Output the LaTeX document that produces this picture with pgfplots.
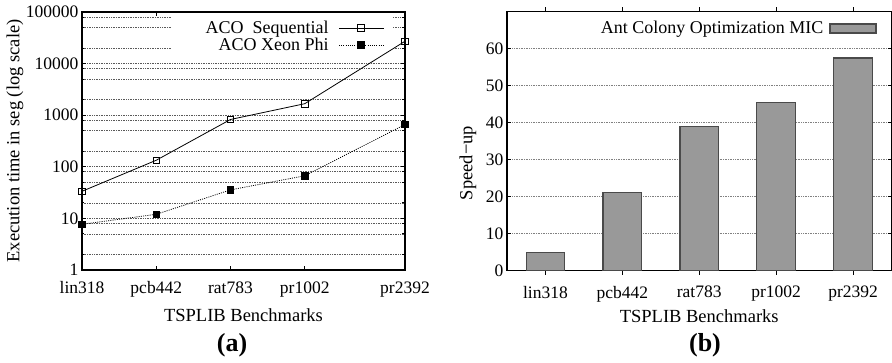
\documentclass[border=0pt]{standalone}
\usepackage{fontspec}
\setmainfont{Liberation Serif}
\usepackage{pgfplots}
\pgfplotsset{compat=1.18}
\definecolor{barfill}{HTML}{999999}
\definecolor{baredge}{HTML}{4A4A4A}
\newcommand{\tfont}{\fontsize{17.5}{18}\selectfont}
\newcommand{\gfont}{\fontsize{18}{18}\selectfont}
\newcommand{\lfont}{\fontsize{18.5}{20}\selectfont}
\begin{document}
\begin{tikzpicture}
\path[use as bounding box] (0pt,0pt) rectangle (892pt,363pt);
% ---------------- (a) ----------------
\begin{axis}[
  at={(82pt,93pt)}, anchor=south west, scale only axis,
  width=323pt, height=258pt,
  ymode=log, log basis y=10,
  ymin=1, ymax=100000, xmin=0, xmax=4.35,
  xtick={0,1,2,3,4.35}, xticklabels={lin318,pcb442,rat783,pr1002,pr2392},
  ytick={1,10,100,1000,10000,100000},
  yticklabels={1,10,100,1000,10000,100000},
  minor ytick={2,5,8,20,50,80,200,500,800,2000,5000,8000,20000,50000,80000},
  ymajorgrids, yminorgrids,
  major grid style={black!65, line width=0.6pt, dash pattern=on 0.8pt off 0.9pt},
  minor grid style={black!65, line width=0.6pt, dash pattern=on 0.8pt off 0.9pt},
  axis line style={line width=1.1pt},
  major tick length=4pt, minor tick length=2.5pt,
  every tick/.style={black, line width=0.9pt},
  tick label style={font=\tfont},
  xticklabel style={yshift=-8pt},
  xlabel={TSPLIB Benchmarks},
  ylabel={Execution time in seg (log scale)},
  every axis x label/.style={at={(rel axis cs:0.5,0)}, anchor=center, yshift=-45pt, font=\lfont},
  every axis y label/.style={at={(rel axis cs:0,0.5)}, anchor=center, rotate=90, yshift=67pt, font=\lfont},
  legend plot pos=right,
  legend cell align=right,
  legend style={at={(rel axis cs:0.965,1)}, anchor=north east, xshift=-5pt, yshift=-5pt,
    draw=none, fill=none, font=\gfont, row sep=-1pt, column sep=8pt, inner xsep=4pt, inner ysep=2pt},
  legend image code/.code={\draw[mark repeat=2,mark phase=2,#1] plot coordinates {(0pt,0pt) (22pt,0pt) (45pt,0pt)};},
]
\fill[white] (rel axis cs:0.279,0.835) rectangle (rel axis cs:0.963,0.997);
\addplot[black, line width=0.8pt, mark=square, mark size=3.3pt, mark options={solid, line width=0.8pt}]
  coordinates {(0,33.5) (1,134) (2,826) (3,1670) (4.35,27100)};
\addlegendentry{ACO\ \ Sequential}
\addplot[black, line width=0.8pt, dash pattern=on 1pt off 1.2pt, mark=square*, mark size=3.3pt, mark options={solid, fill=black}]
  coordinates {(0,7.7) (1,12) (2,35.7) (3,67) (4.35,660)};
\addlegendentry{ACO Xeon Phi}
\end{axis}
\node[font=\fontsize{26}{28}\selectfont\bfseries] at (232pt,18pt) {(a)};
% ---------------- (b) ----------------
\begin{axis}[
  at={(507pt,92.3pt)}, anchor=south west, scale only axis,
  width=384.5pt, height=259.4pt,
  ybar, bar width=38.7pt,
  xmin=-0.5, xmax=4.5, ymin=0, ymax=70,
  xtick={0,1,2,3,4}, xticklabels={lin318,pcb442,rat783,pr1002,pr2392},
  ytick={0,10,20,30,40,50,60}, yticklabels={0,10,20,30,40,50,60},
  ymajorgrids,
  major grid style={black!50, line width=0.6pt, dash pattern=on 0.8pt off 0.9pt},
  axis line style={line width=1.1pt},
  major tick length=4pt,
  every tick/.style={black, line width=0.9pt},
  tick label style={font=\tfont},
  xticklabel style={yshift=-8pt},
  xlabel={TSPLIB Benchmarks},
  ylabel={Speed−up},
  every axis x label/.style={at={(rel axis cs:0.5,0)}, anchor=center, yshift=-45pt, font=\lfont},
  every axis y label/.style={at={(rel axis cs:0,0.415)}, anchor=center, rotate=90, yshift=39pt, font=\lfont},
  legend plot pos=right,
  legend style={at={(rel axis cs:0.985,1)}, anchor=north east, xshift=-6pt, yshift=-5pt,
    draw=none, fill=none, font=\gfont, column sep=4pt, inner xsep=3pt, inner ysep=3pt},
  legend image code/.code={\draw[#1] (0pt,-4.5pt) rectangle (46pt,4.5pt);},
]
\addplot[fill=barfill, draw=baredge, line width=1.2pt] coordinates {(0,5) (1,21.1) (2,39) (3,45.4) (4,57.4)};
\addlegendentry{Ant Colony Optimization MIC}
\end{axis}
\node[font=\fontsize{26}{28}\selectfont\bfseries] at (705pt,18pt) {(b)};
\end{tikzpicture}
\end{document}
